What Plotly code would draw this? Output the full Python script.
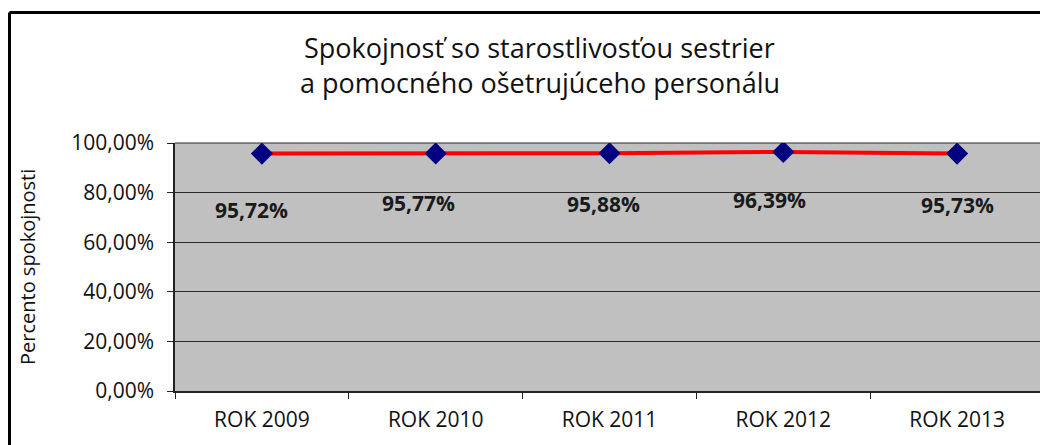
import plotly.graph_objects as go

categories = ["ROK 2009", "ROK 2010", "ROK 2011", "ROK 2012", "ROK 2013"]
values = [0.9572, 0.9577, 0.9588, 0.9639, 0.9573]
y_ticks = [0, 0.2, 0.4, 0.6, 0.8, 1.0]

title_lines = ["Spokojnosť so starostlivosťou sestrier", "a pomocného ošetrujúceho personálu"]
y_title = "Percento spokojnosti"

# label offsets (style only)
label_dx = [-10, -17, -6, -14, 0]
label_dy = [-56, -50, -51, -48, -51]

FONT = "Open Sans"

fig = go.Figure()
fig.add_trace(go.Scatter(
    x=categories, y=values, mode="lines+markers",
    line=dict(color="#FF0000", width=4),
    marker=dict(symbol="diamond", size=17, color="#000080"),
    hoverinfo="skip", showlegend=False,
))

def fmt(v):
    return f"{v*100:.2f}".replace(".", ",") + "%"

annotations = []
for c, v, dx, dy in zip(categories, values, label_dx, label_dy):
    annotations.append(dict(
        x=c, y=v, xref="x", yref="y", text=fmt(v), showarrow=False,
        xshift=dx, yshift=dy,
        font=dict(family=FONT, size=21, color="#1a1a1a", weight="bold"),
    ))

# title lines
for line, py in zip(title_lines, [1.387, 1.242]):
    annotations.append(dict(
        x=0.42, y=py, xref="paper", yref="paper", text=line, showarrow=False,
        xanchor="center", yanchor="middle",
        font=dict(family=FONT, size=27, color="#111111"),
    ))

annotations.append(dict(
    x=-0.1703, y=0.5, xref="paper", yref="paper", text=y_title,
    showarrow=False, textangle=-90, xanchor="center", yanchor="middle",
    font=dict(family=FONT, size=20, color="#111111"),
))

fig.update_layout(
    width=1040, height=437,
    margin=dict(l=167, r=4, t=135, b=54, pad=0),
    paper_bgcolor="white", plot_bgcolor="#C0C0C0",
    separators=", ",
    annotations=annotations,
    xaxis=dict(
        type="category", range=[-0.5, 4.5], tickson="boundaries",
        ticks="outside", ticklen=6, tickcolor="#222222",
        showline=True, linecolor="#222222", linewidth=1.5,
        showgrid=False, ticklabelstandoff=9,
        tickfont=dict(family=FONT, size=21, color="#111111"),
        fixedrange=True,
    ),
    yaxis=dict(
        range=[0, 1], tickvals=y_ticks, tickformat=".2%",
        ticks="outside", ticklen=6, tickcolor="#222222",
        showline=True, linecolor="#222222", linewidth=1.5,
        showgrid=True, gridcolor="#2a2a2a", gridwidth=1,
        zeroline=False, ticklabelstandoff=9,
        tickfont=dict(family=FONT, size=21, color="#111111"),
        fixedrange=True,
    ),
    shapes=[
        dict(type="line", xref="paper", yref="paper",
             x0=(9.5 - 175) / 869, x1=1.1, y0=(391 - 12.5) / 248, y1=(391 - 12.5) / 248,
             line=dict(color="black", width=3)),
        dict(type="line", xref="paper", yref="paper",
             x0=(9.5 - 175) / 869, x1=(9.5 - 175) / 869, y0=(391 - 12.5) / 248, y1=-0.5,
             line=dict(color="black", width=3)),
        dict(type="line", xref="paper", yref="paper",
             x0=0, x1=1, y0=1, y1=1, layer="below",
             line=dict(color="#2a2a2a", width=1)),
    ],
)

fig.write_html("out.html")
